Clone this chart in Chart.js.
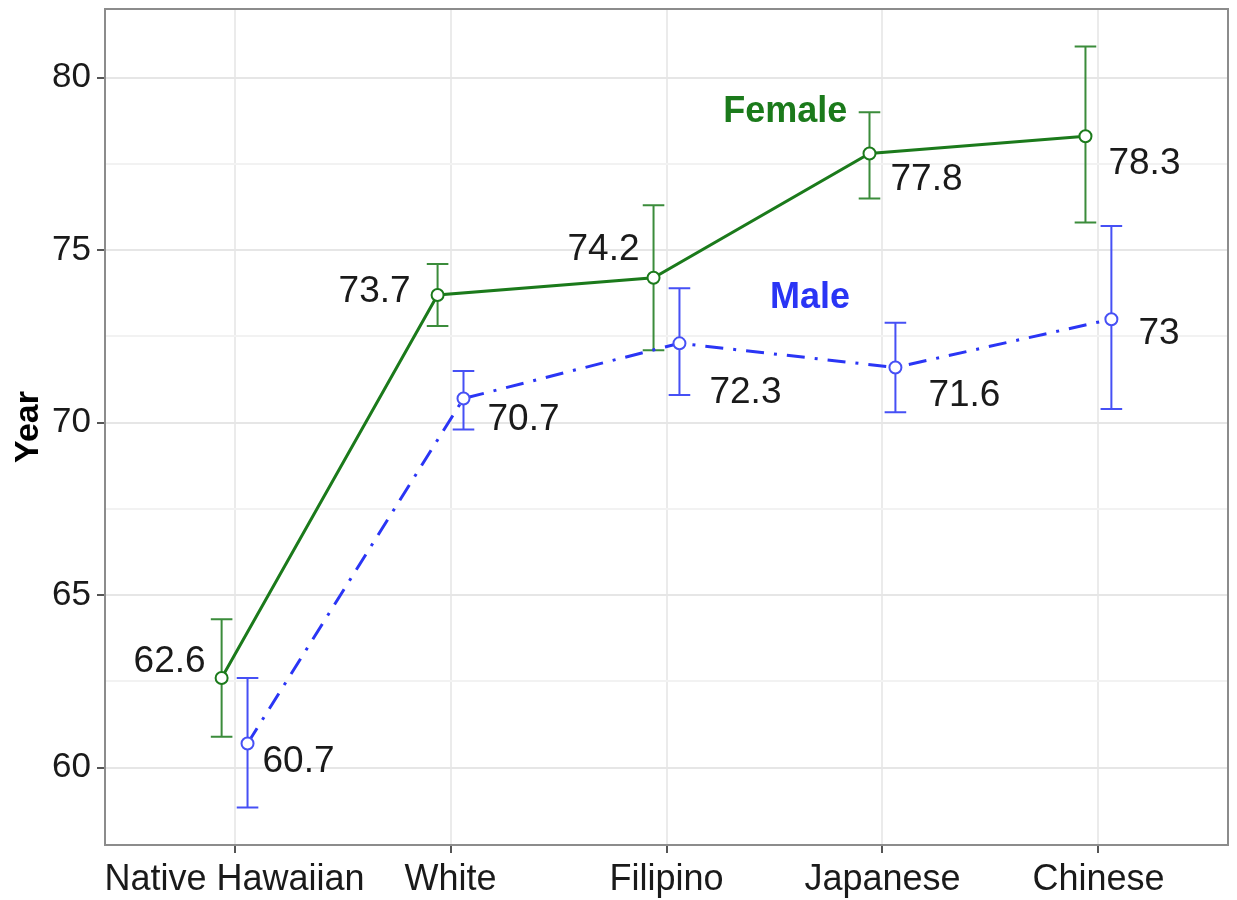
<!DOCTYPE html>
<html>
<head>
<meta charset="utf-8">
<script src="https://cdn.jsdelivr.net/npm/chart.js@4.4.1/dist/chart.umd.min.js"></script>
<style>
  body { margin: 0; background: #fff; }
  #wrap { width: 1237px; height: 900px; }
</style>
</head>
<body>
<div id="wrap"><canvas id="chart"></canvas></div>
<script>
// Data
const categories = ["Native Hawaiian", "White", "Filipino", "Japanese", "Chinese"];
const femaleMean = [62.6, 73.7, 74.2, 77.8, 78.3];
const femaleLow = [60.9, 72.8, 72.1, 76.5, 75.8];
const femaleHigh = [64.3, 74.6, 76.3, 79.0, 80.9];
const maleMean = [60.7, 70.7, 72.3, 71.6, 73];
const maleLow = [58.85, 69.8, 70.8, 70.3, 70.4];
const maleHigh = [62.6, 71.5, 73.9, 72.9, 75.7];
const yTicks = [60, 65, 70, 75, 80];

const GREEN = "#1b7a1b";
const GREEN_BAR = "#3b8c3b";
const BLUE = "#2a35f5";
const BLUE_BAR = "#4650f5";
const DODGE = 0.06;
const FONT = "'Liberation Sans', Arial, sans-serif";

// label offsets in pixels (dx, dy, align)
const femaleLabelPos = [[-16, -16, "right"], [-27, -3, "right"], [-14, -28, "right"], [21, 26, "left"], [23, 27, "left"]];
const maleLabelPos = [[15, 18, "left"], [24, 21, "left"], [30, 49, "left"], [33, 28, "left"], [27, 15, "left"]];

const pts = (vals, shift) => vals.map((v, i) => ({ x: i + shift, y: v }));

// error bars, drawn under the lines and points
const errorBars = {
  id: "errorBars",
  beforeDatasetsDraw(chart) {
    const { ctx, scales: { x, y } } = chart;
    const draw = (lo, hi, shift, color) => {
      ctx.save();
      ctx.strokeStyle = color;
      ctx.lineWidth = 2;
      lo.forEach((l, i) => {
        const px = x.getPixelForValue(i + shift);
        const y1 = y.getPixelForValue(l);
        const y2 = y.getPixelForValue(hi[i]);
        const w = x.getPixelForValue(i + shift + 0.05) - px;
        ctx.beginPath();
        ctx.moveTo(px, y1); ctx.lineTo(px, y2);
        ctx.moveTo(px - w, y1); ctx.lineTo(px + w, y1);
        ctx.moveTo(px - w, y2); ctx.lineTo(px + w, y2);
        ctx.stroke();
      });
      ctx.restore();
    };
    draw(femaleLow, femaleHigh, -DODGE, GREEN_BAR);
    draw(maleLow, maleHigh, DODGE, BLUE_BAR);
  }
};

// panel border + value labels + series names
const annotations = {
  id: "annotations",
  afterDatasetsDraw(chart) {
    const { ctx, chartArea: a, scales: { x, y } } = chart;
    ctx.save();
    ctx.strokeStyle = "#8c8c8c";
    ctx.lineWidth = 2;
    ctx.strokeRect(a.left, a.top, a.right - a.left, a.bottom - a.top);

    ctx.font = "37px " + FONT;
    ctx.fillStyle = "#1a1a1a";
    ctx.textBaseline = "middle";
    const put = (vals, shift, pos) => {
      vals.forEach((v, i) => {
        const [dx, dy, al] = pos[i];
        ctx.textAlign = al;
        ctx.fillText(String(v), x.getPixelForValue(i + shift) + dx, y.getPixelForValue(v) + dy);
      });
    };
    put(femaleMean, -DODGE, femaleLabelPos);
    put(maleMean, DODGE, maleLabelPos);

    ctx.font = "bold 36px " + FONT;
    ctx.textAlign = "center";
    ctx.fillStyle = GREEN;
    ctx.fillText("Female", x.getPixelForValue(2.55), y.getPixelForValue(79.0));
    ctx.fillStyle = BLUE;
    ctx.fillText("Male", x.getPixelForValue(2.665), y.getPixelForValue(73.6));
    ctx.restore();
  }
};

new Chart(document.getElementById("chart"), {
  type: "line",
  data: {
    datasets: [
      {
        label: "Female",
        data: pts(femaleMean, -DODGE),
        borderColor: GREEN,
        borderWidth: 3,
        pointRadius: 6,
        pointBorderWidth: 2,
        pointBackgroundColor: "#fff",
        pointBorderColor: GREEN
      },
      {
        label: "Male",
        data: pts(maleMean, DODGE),
        borderColor: BLUE,
        borderWidth: 3,
        borderDash: [18, 10, 3, 10],
        pointRadius: 6,
        pointBorderWidth: 2,
        pointBackgroundColor: "#fff",
        pointBorderColor: BLUE_BAR
      }
    ]
  },
  options: {
    responsive: true,
    maintainAspectRatio: false,
    animation: false,
    layout: { padding: { left: 0, top: 9, right: 9, bottom: 0 } },
    plugins: { legend: { display: false }, tooltip: { enabled: false } },
    scales: {
      x: {
        type: "linear",
        min: -0.6,
        max: 4.6,
        afterBuildTicks: s => { s.ticks = categories.map((c, i) => ({ value: i })); },
        afterFit: s => { s.height = 55; s.paddingLeft = 0; s.paddingRight = 0; },
        ticks: {
          callback: v => categories[v],
          color: "#1a1a1a",
          font: { size: 36, family: FONT },
          padding: 5,
          maxRotation: 0,
          autoSkip: false
        },
        grid: { color: "#ebebeb", lineWidth: 2, tickLength: 8, tickColor: "#555" },
        border: { display: false }
      },
      y: {
        min: 57.76,
        max: 81.99,
        afterBuildTicks: s => {
          const t = [];
          for (let v = 57.5; v <= 82.5; v += 2.5) if (v > 57.76 && v < 81.99) t.push({ value: v });
          s.ticks = t;
        },
        afterFit: s => { s.width = 105; s.paddingTop = 0; s.paddingBottom = 0; },
        ticks: {
          callback: v => (yTicks.includes(v) ? String(v) : ""),
          color: "#1a1a1a",
          font: { size: 35, family: FONT },
          padding: 6
        },
        grid: {
          color: c => (yTicks.includes(c.tick && c.tick.value) ? "#e6e6e6" : "#f2f2f2"),
          lineWidth: 2,
          tickLength: 8,
          tickColor: c => (yTicks.includes(c.tick && c.tick.value) ? "#555" : "rgba(0,0,0,0)")
        },
        border: { display: false },
        title: {
          display: true,
          text: "Year",
          color: "#000",
          font: { size: 34, weight: "bold", family: FONT },
          padding: { top: 8, bottom: 0 }
        }
      }
    }
  },
  plugins: [errorBars, annotations]
});
</script>
</body>
</html>
